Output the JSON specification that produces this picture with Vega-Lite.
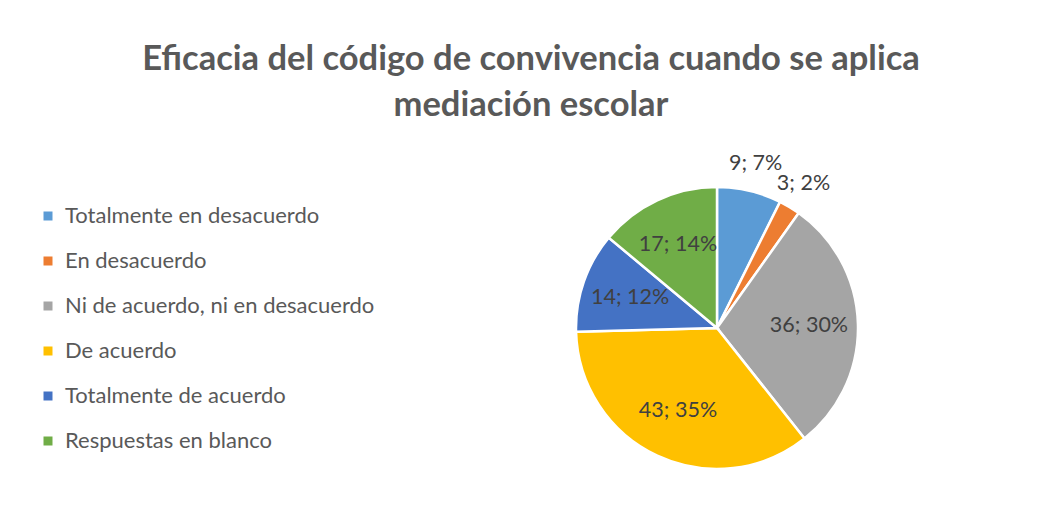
{
  "$schema": "https://vega.github.io/schema/vega-lite/v6.json",
  "width": 300,
  "height": 300,
  "autosize": {"type": "none"},
  "padding": {"left": 567, "top": 178, "right": 173, "bottom": 37},
  "background": "white",
  "title": {
    "text": ["Eficacia del código de convivencia cuando se aplica", "mediación escolar"],
    "font": "Lato",
    "fontSize": 34.5,
    "fontWeight": "bold",
    "color": "#595959",
    "anchor": "middle",
    "frame": "group",
    "dx": -186,
    "lineHeight": 46,
    "offset": 30
  },
  "data": {
    "values": [
      {"cat": "Totalmente en desacuerdo", "n": 9, "o": 1, "label": "9; 7%"},
      {"cat": "En desacuerdo", "n": 3, "o": 2, "label": "3; 2%"},
      {"cat": "Ni de acuerdo, ni en desacuerdo", "n": 36, "o": 3, "label": "36; 30%"},
      {"cat": "De acuerdo", "n": 43, "o": 4, "label": "43; 35%"},
      {"cat": "Totalmente de acuerdo", "n": 14, "o": 5, "label": "14; 12%"},
      {"cat": "Respuestas en blanco", "n": 17, "o": 6, "label": "17; 14%"}
    ]
  },
  "encoding": {
    "theta": {"field": "n", "type": "quantitative", "stack": true},
    "order": {"field": "o", "type": "quantitative"}
  },
  "layer": [
    {
      "mark": {"type": "arc", "radius": 141, "stroke": "white", "strokeWidth": 2.5},
      "encoding": {
        "color": {
          "field": "cat",
          "type": "nominal",
          "scale": {
            "domain": ["Totalmente en desacuerdo", "En desacuerdo", "Ni de acuerdo, ni en desacuerdo", "De acuerdo", "Totalmente de acuerdo", "Respuestas en blanco"],
            "range": ["#5B9BD5", "#ED7D31", "#A5A5A5", "#FFC000", "#4472C4", "#70AD47"]
          },
          "legend": {
            "title": null,
            "orient": "none",
            "legendX": -530,
            "legendY": 27,
            "padding": 0,
            "symbolType": "square",
            "symbolSize": 81,
            "symbolStrokeWidth": 0,
            "symbolOpacity": 1,
            "labelFont": "Lato",
            "labelFontSize": 22,
            "labelColor": "#595959",
            "labelOffset": 6,
            "rowPadding": 23,
            "labelLimit": 400
          }
        }
      }
    },
    {
      "mark": {"type": "text", "radius": 92, "font": "Lato", "fontSize": 21.5, "color": "#404040"},
      "encoding": {
        "text": {"field": "label"},
        "opacity": {"condition": {"test": "datum.n < 10", "value": 0}, "value": 1}
      }
    },
    {
      "mark": {"type": "text", "radius": 168, "font": "Lato", "fontSize": 21.5, "color": "#404040"},
      "encoding": {
        "text": {"field": "label"},
        "opacity": {"condition": {"test": "datum.n < 10", "value": 1}, "value": 0}
      }
    }
  ],
  "config": {"view": {"stroke": null}}
}
